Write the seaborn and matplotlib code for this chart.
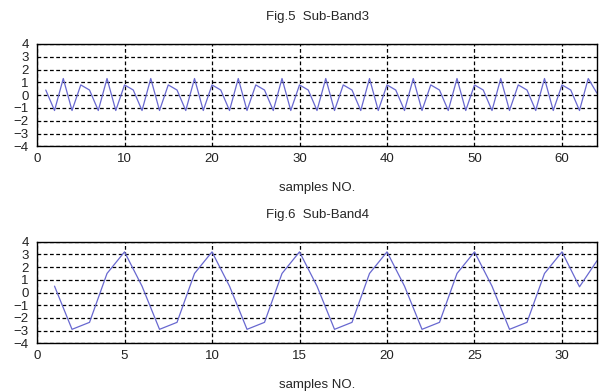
import numpy as np
import pandas as pd
import matplotlib
matplotlib.use('Agg')
import matplotlib.pyplot as plt
import seaborn as sns

# --- data ---
# Sub-Band3: samples 1..64, repeating 5-sample shape, last point differs
band3_cycle = [0.4, -1.2, 1.3, -1.2, 0.8]
band3_x = list(range(1, 65))
band3_y = [band3_cycle[(i - 1) % 5] for i in band3_x[:-1]] + [0.15]

# Sub-Band4: samples 1..32
band4_cycle = [0.5, -2.9, -2.35, 1.5, 3.2]
band4_x = list(range(1, 33))
band4_y = [band4_cycle[(i - 1) % 5] for i in band4_x[:-2]] + [0.45, 2.5]

yticks = [-4, -3, -2, -1, 0, 1, 2, 3, 4]
line_color = '#6868d0'

sns.set_style('white')
plt.rcParams['font.family'] = ['Liberation Sans', 'DejaVu Sans']

fig = plt.figure(figsize=(6.14, 3.91), dpi=100)
ax1 = fig.add_axes([0.0603, 0.6258, 0.912, 0.2617])
ax2 = fig.add_axes([0.0603, 0.1220, 0.912, 0.2598])

def style_axis(ax, xmax, xstep, title):
    ax.set_xlim(0, xmax)
    ax.set_ylim(-4, 4)
    ax.set_xticks(np.arange(0, xmax + 1, xstep))
    ax.set_yticks(yticks)
    ax.set_yticklabels([str(t).replace('-', '\u2212') for t in yticks])
    ax.grid(True, color='black', linestyle=(0, (3, 2)), linewidth=0.9)
    for s in ax.spines.values():
        s.set_color('black')
        s.set_linewidth(1.0)
    ax.tick_params(axis='both', length=0, labelsize=9.5, pad=5, colors='#222222')
    ax.tick_params(axis='y', pad=6)
    ax.set_xlabel('samples NO.', fontsize=9.5, labelpad=12)
    ax.set_ylabel('')
    ax.set_title(title, fontsize=9.5, pad=17)

df3 = pd.DataFrame({'x': band3_x, 'y': band3_y})
sns.lineplot(data=df3, x='x', y='y', ax=ax1, color=line_color, linewidth=0.9)
style_axis(ax1, 64, 10, 'Fig.5  Sub-Band3')

df4 = pd.DataFrame({'x': band4_x, 'y': band4_y})
sns.lineplot(data=df4, x='x', y='y', ax=ax2, color=line_color, linewidth=0.9)
style_axis(ax2, 32, 5, 'Fig.6  Sub-Band4')

fig.savefig('out.png', dpi=100)
